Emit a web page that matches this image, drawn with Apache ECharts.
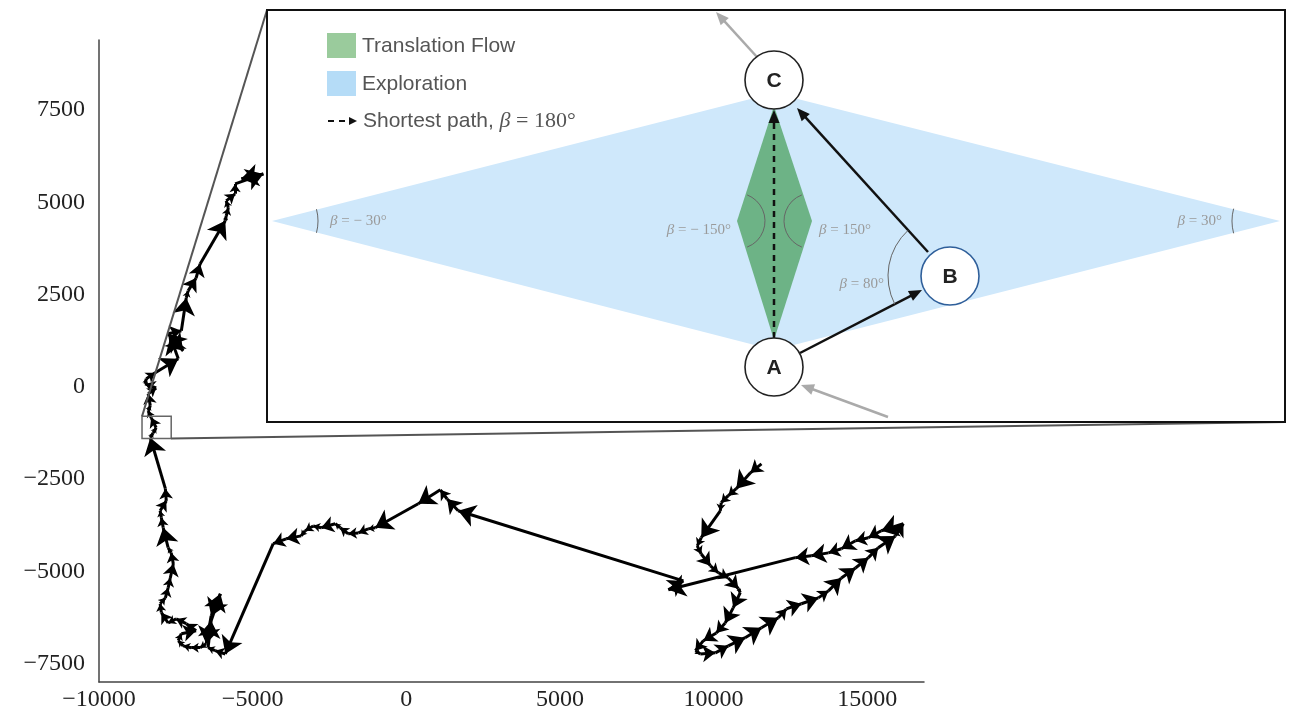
<!DOCTYPE html>
<html>
<head>
<meta charset="utf-8">
<script src="https://cdn.jsdelivr.net/npm/echarts@6/dist/echarts.min.js"></script>
<style>
  html, body { margin: 0; background: #fff; }
  #main { width: 1291px; height: 715px; }
</style>
</head>
<body>
<div id="main"></div>
<script>
// trajectory, in plot units, in time order
var pathX = [11560, 11200, 10740, 10480, 10250, 10220, 9600, 9470, 9600, 9900,
  10160, 10480, 10810, 10870, 10640, 10380, 10090, 9670, 9410, 9570,
  10060, 10480, 11030, 11560, 12110, 12370, 12860, 13410, 13740, 14160,
  14620, 15040, 15360, 15920, 16180, 15460, 15040, 14620, 14160, 13740,
  13180, 12660, 8530, 9020, 1690, 1330, 1110, 390, -1010, -1240,
  -1560, -1890, -2150, -2310, -2770, -3030, -3290, -3420, -3910, -4330,
  -5890, -6220, -6450, -6350, -6050, -6350, -6510, -6710, -7000, -7260,
  -7420, -7320, -6840, -7160, -7490, -7750, -7970, -8010, -7840, -7750,
  -7680, -7580, -7650, -7750, -7910, -7970, -8010, -7810, -7840, -8330,
  -8240, -8140, -8300, -8400, -8330, -8400, -8140, -8500, -8460, -8170,
  -7420, -7680, -7260, -7750, -7320, -7160, -7100, -6840, -6710, -5890,
  -5860, -5790, -5860, -5570, -5570, -4650, -5370];
var pathY = [-2090, -2330, -2760, -2950, -3140, -3360, -4090, -4310, -4530, -4850,
  -5040, -5180, -5470, -5580, -5990, -6400, -6670, -6880, -7150, -7240,
  -7210, -7020, -6800, -6530, -6260, -6020, -5880, -5720, -5530, -5180,
  -4910, -4630, -4360, -4040, -3710, -3900, -4090, -4170, -4390, -4500,
  -4580, -4630, -5500, -5260, -3360, -3040, -2790, -3170, -3820, -3850,
  -3960, -3980, -3820, -3710, -3820, -3770, -3900, -4040, -4120, -4250,
  -7240, -7150, -7070, -6340, -5610, -6210, -6960, -7070, -7070, -7020,
  -6880, -6690, -6610, -6420, -6290, -6400, -6120, -5880, -5720, -5450,
  -5180, -4800, -4500, -4360, -3820, -3550, -3360, -3090, -2760, -1380,
  -1250, -1110, -840, -650, -510, -190, -30, 80, 220, 380,
  760, 1360, 980, 1440, 1520, 2410, 2600, 2950, 3330, 4500,
  4630, 4850, 5040, 5230, 5500, 5770, 5640];

var xTicks = [-10000, -5000, 0, 5000, 10000, 15000];
var yTicks = [-7500, -5000, -2500, 0, 2500, 5000, 7500];

// region shown enlarged in the inset
var zoomX = [-8600, -7650];
var zoomY = [-1400, -800];

var legendNames = ['Translation Flow', 'Exploration'];
var angleLabels = ['β = − 30°', 'β = − 150°', 'β = 150°', 'β = 80°', 'β = 30°'];

function minus(v) { return String(v).replace('-', '\u2212'); }

var chart = echarts.init(document.getElementById('main'));

var segs = [];
for (var i = 1; i < pathX.length; i++) {
  segs.push({ coords: [[pathX[i - 1], pathY[i - 1]], [pathX[i], pathY[i]]] });
}

var option = {
  animation: false,
  grid: { left: 99, right: 367, top: 40, bottom: 33 },
  xAxis: {
    type: 'value', min: -10000, max: 16850, interval: 5000,
    axisLine: { show: true, onZero: false, lineStyle: { color: '#444', width: 1.5 } },
    axisTick: { show: false },
    splitLine: { show: false },
    axisLabel: {
      margin: 6, fontFamily: 'Liberation Serif', fontSize: 24, color: '#222',
      formatter: function (v) { return xTicks.indexOf(v) >= 0 ? minus(v) : ''; }
    }
  },
  yAxis: {
    type: 'value', min: -8000, max: 9400, interval: 500,
    axisLine: { show: true, onZero: false, lineStyle: { color: '#444', width: 1.5 } },
    axisTick: { show: false },
    splitLine: { show: false },
    axisLabel: {
      margin: 14, fontFamily: 'Liberation Serif', fontSize: 24, color: '#222',
      formatter: function (v) { return yTicks.indexOf(v) >= 0 ? minus(v) : ''; }
    }
  },
  series: [{
    type: 'lines',
    coordinateSystem: 'cartesian2d',
    z: 3,
    symbol: ['none', 'arrow'],
    symbolSize: [12, 17],
    lineStyle: { color: '#000', width: 3, opacity: 1, curveness: 0 },
    data: segs
  }]
};
chart.setOption(option);

// shrink heads on short steps
var px = function (x, y) { return chart.convertToPixel({ gridIndex: 0 }, [x, y]); };
segs.forEach(function (s) {
  var a = px(s.coords[0][0], s.coords[0][1]);
  var b = px(s.coords[1][0], s.coords[1][1]);
  var L = Math.hypot(b[0] - a[0], b[1] - a[1]);
  var k = Math.min(1, Math.max(0.2, L / 20));
  s.symbolSize = [12 * k, 17 * k];
});

// inset diagram
var box = { l: 267, t: 10, r: 1285, b: 422 };
var zA = px(zoomX[0], zoomY[1]);
var zB = px(zoomX[1], zoomY[0]);

function arrow(p, q, color, dash, z, hl, hw, lw) {
  hl = hl || 13; hw = hw || 5.5; lw = lw || 2.5;
  var dx = q[0] - p[0], dy = q[1] - p[1];
  var L = Math.sqrt(dx * dx + dy * dy), ux = dx / L, uy = dy / L;
  var bx = q[0] - ux * hl, by = q[1] - uy * hl;
  return [
    { type: 'line', z: z, shape: { x1: p[0], y1: p[1], x2: bx + ux * 2, y2: by + uy * 2 },
      style: { stroke: color, lineWidth: lw, lineDash: dash ? [6, 5] : null } },
    { type: 'polygon', z: z, shape: { points: [[q[0], q[1]], [bx - uy * hw, by + ux * hw], [bx + uy * hw, by - ux * hw]] },
      style: { fill: color } }
  ];
}

function circle(cx, cy, label, stroke) {
  return [
    { type: 'circle', z: 120, shape: { cx: cx, cy: cy, r: 29 }, style: { fill: '#fff', stroke: stroke, lineWidth: 1.6 } },
    { type: 'text', z: 121, x: cx, y: cy + 1, style: { text: label, font: 'bold 21px "Liberation Sans"', fill: '#222',
      align: 'center', verticalAlign: 'middle', textAlign: 'center', textVerticalAlign: 'middle' } }
  ];
}

function betaText(x, y, t, align) {
  return { type: 'text', z: 118, x: x, y: y, style: {
    text: '{i|β}' + t.slice(1), font: '15px "Liberation Serif"', fill: '#9a9a9a',
    align: align, verticalAlign: 'middle', textAlign: align, textVerticalAlign: 'middle',
    rich: { i: { fontStyle: 'italic', fontFamily: 'Liberation Serif', fontSize: 15, fill: '#9a9a9a' } } } };
}

function arc(cx, cy, r, a0, a1) {
  return { type: 'arc', z: 117, shape: { cx: cx, cy: cy, r: r, startAngle: a0, endAngle: a1, clockwise: true },
    style: { stroke: '#666', lineWidth: 1, fill: null } };
}

var A = [774, 367], B = [950, 276], C = [774, 80];
var g = [];
// zoom box and connectors
g.push({ type: 'rect', z: 5, shape: { x: zA[0], y: zA[1], width: zB[0] - zA[0], height: zB[1] - zA[1] },
  style: { fill: null, stroke: '#666', lineWidth: 1.5 } });
g.push({ type: 'line', z: 5, shape: { x1: zA[0], y1: zA[1], x2: box.l, y2: box.t }, style: { stroke: '#555', lineWidth: 2 } });
g.push({ type: 'line', z: 5, shape: { x1: zB[0], y1: zB[1], x2: box.r, y2: box.b }, style: { stroke: '#555', lineWidth: 2 } });
// frame
g.push({ type: 'rect', z: 100, shape: { x: box.l, y: box.t, width: box.r - box.l, height: box.b - box.t },
  style: { fill: '#fff', stroke: '#111', lineWidth: 2 } });
// regions
g.push({ type: 'polygon', z: 110, shape: { points: [[272, 221], [774, 93], [1280, 221], [774, 350]] }, style: { fill: '#cfe8fb' } });
g.push({ type: 'polygon', z: 111, shape: { points: [[774, 106], [812, 221], [774, 340], [737, 221]] }, style: { fill: '#6db386' } });
// angle arcs
g.push(arc(272, 221, 46, -0.26, 0.26));
g.push(arc(1280, 221, 48, Math.PI - 0.26, Math.PI + 0.26));
g.push(arc(737, 221, 28, -1.2, 1.2));
g.push(arc(812, 221, 28, Math.PI - 1.2, Math.PI + 1.2));
g.push(arc(B[0], B[1], 62, 2.67, 3.97));
g.push(betaText(330, 221, angleLabels[0], 'left'));
g.push(betaText(731, 230, angleLabels[1], 'right'));
g.push(betaText(819, 230, angleLabels[2], 'left'));
g.push(betaText(884, 284, angleLabels[3], 'right'));
g.push(betaText(1222, 221, angleLabels[4], 'right'));
// arrows
g = g.concat(arrow([774, 338], [774, 110], '#111', true, 115));
g = g.concat(arrow([800, 353], [922, 290], '#111', false, 115));
g = g.concat(arrow([928, 252], [797, 108], '#111', false, 115));
g = g.concat(arrow([888, 417], [801, 385], '#aaa', false, 115));
g = g.concat(arrow([757, 57], [716, 12], '#aaa', false, 115));
// nodes
g = g.concat(circle(C[0], C[1], 'C', '#222'));
g = g.concat(circle(A[0], A[1], 'A', '#222'));
g = g.concat(circle(B[0], B[1], 'B', '#2f5f9a'));
// legend
g.push({ type: 'rect', z: 120, shape: { x: 327, y: 33, width: 29, height: 25 }, style: { fill: '#9acb9c' } });
g.push({ type: 'rect', z: 120, shape: { x: 327, y: 71, width: 29, height: 25 }, style: { fill: '#b5dcf7' } });
g.push({ type: 'text', z: 121, x: 362, y: 46, style: { text: legendNames[0], font: '21px "Liberation Sans"', fill: '#555',
  verticalAlign: 'middle', textVerticalAlign: 'middle' } });
g.push({ type: 'text', z: 121, x: 362, y: 84, style: { text: legendNames[1], font: '21px "Liberation Sans"', fill: '#555',
  verticalAlign: 'middle', textVerticalAlign: 'middle' } });
g = g.concat(arrow([328, 121], [357, 121], '#111', true, 120, 8, 4, 2));
g.push({ type: 'text', z: 121, x: 363, y: 121, style: {
  text: '{a|Shortest path, }{b|β}{c| = 180°}', verticalAlign: 'middle', textVerticalAlign: 'middle',
  rich: {
    a: { fontFamily: 'Liberation Sans', fontSize: 21, fill: '#555' },
    b: { fontFamily: 'Liberation Serif', fontStyle: 'italic', fontSize: 22, fill: '#555' },
    c: { fontFamily: 'Liberation Serif', fontSize: 22, fill: '#555' }
  } } });

chart.setOption({ series: [{ data: segs }], graphic: { elements: g } });
</script>
</body>
</html>
